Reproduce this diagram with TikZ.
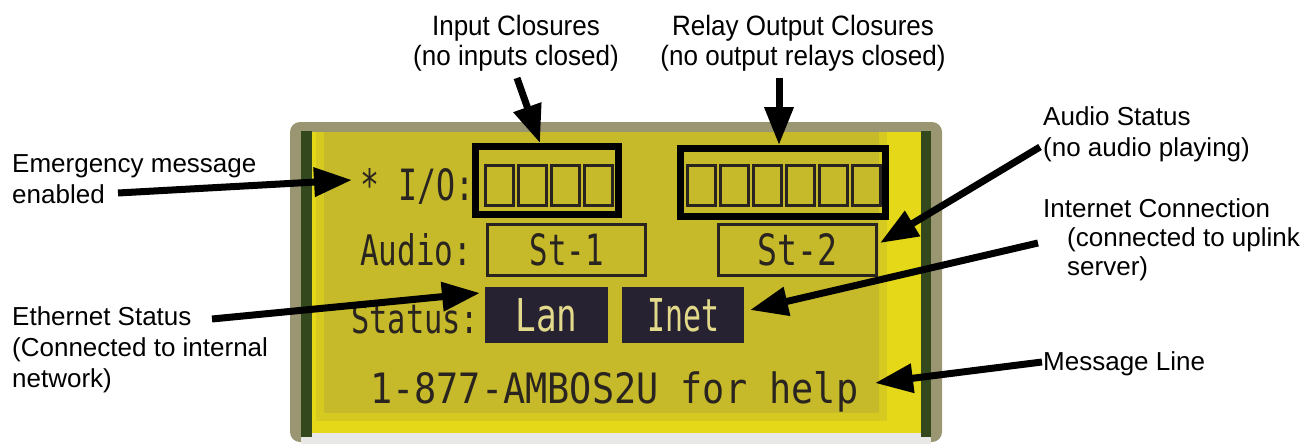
\documentclass[tikz,border=0pt]{standalone}
\usepackage{graphicx}
\usepackage{fontspec}
\setmainfont{Liberation Sans}
\newfontfamily\narrowfont[FakeStretch=0.93]{Liberation Sans}
\newfontfamily\lcdfont{DejaVu Sans Mono}
\usetikzlibrary{arrows.meta}
\definecolor{bezel}{HTML}{9A9672}
\definecolor{darkgreen}{HTML}{34481E}
\definecolor{lcdbright}{HTML}{E4D818}
\definecolor{lcdolive}{HTML}{C6BA2A}
\definecolor{lcdink}{HTML}{2A2420}
\definecolor{lcdblock}{HTML}{272232}
\definecolor{lcdpale}{HTML}{E2DA8A}
\definecolor{floor}{HTML}{E8E8E6}
\tikzset{
  lbl/.style={inner sep=0pt, align=left, font=\fontsize{26}{31}\selectfont},
  tlbl/.style={inner sep=0pt, align=center, font=\narrowfont\fontsize{28}{28}\selectfont},
  lcdtxt/.style={inner sep=0pt, text=lcdink},
  heavybox/.style={draw=black, line width=7pt, inner sep=0pt},
  stbox/.style={draw=lcdink, line width=3pt, inner sep=0pt, minimum width=158pt, minimum height=51pt},
  blockbox/.style={fill=lcdblock, inner sep=0pt, text=lcdpale},
  cell/.style={draw=lcdink, line width=3pt},
  arr/.style={line width=7pt, -{Triangle[length=38pt,width=28pt]}}
}
\begin{document}
\begin{tikzpicture}[x=1pt,y=-1pt]
\useasboundingbox (0,0) rectangle (1310,444);
\fill[white] (0,0) rectangle (1310,444);
% LCD module
\fill[bezel, rounded corners=10pt] (290,442) -- (290,122) -- (942,122) -- (942,442) -- cycle;
\fill[floor] (301,433) rectangle (931,444);
\fill[darkgreen] (301,131) rectangle (312,437);
\fill[darkgreen] (921,131) rectangle (931,437);
\fill[lcdbright] (312,132) rectangle (921,433);
\fill[lcdolive, opacity=0.45] (316,132) rectangle (887,421);
\fill[lcdolive] (324,132) rectangle (879,413);
% LCD text
\node[lcdtxt, anchor=base west] (io) at (360,200) {\resizebox{114pt}{32pt}{\lcdfont * I/O:}};
\node[lcdtxt, anchor=base west] (audio) at (360,265) {\resizebox{112pt}{32pt}{\lcdfont Audio:}};
\node[lcdtxt, anchor=base west] (status) at (351,333) {\resizebox{128pt}{30pt}{\lcdfont Status:}};
\node[lcdtxt, anchor=base west] (msg) at (370,403) {\resizebox{488pt}{32pt}{\lcdfont 1-877-AMBOS2U for help}};
% input cells
\foreach \x in {485,518,551,584} \draw[cell] (\x,165) rectangle ++(28,40);
\foreach \x in {687,720,753,786,819,852} \draw[cell] (\x,165) rectangle ++(28,40);
\node[heavybox, minimum width=143pt, minimum height=68pt] (inbox) at (547,180.5) {};
\node[heavybox, minimum width=205pt, minimum height=68pt] (outbox) at (783,182.5) {};
% audio boxes
\node[stbox] (st1) at (566.5,250) {\color{lcdink}\resizebox{74pt}{32pt}{\lcdfont St-1}};
\node[stbox] (st2) at (797.5,250) {\color{lcdink}\resizebox{80pt}{32pt}{\lcdfont St-2}};
% status blocks
\node[blockbox, minimum width=123pt, minimum height=56pt] (lan) at (546.5,315) {\resizebox{62pt}{33pt}{\lcdfont Lan}};
\node[blockbox, minimum width=122pt, minimum height=56pt] (inet) at (683,315) {\resizebox{72pt}{33pt}{\lcdfont Inet}};
% labels
\node[tlbl, anchor=north] (inlbl) at (516,15.4) {\strut Input Closures\\(no inputs closed)};
\node[tlbl, anchor=north] (outlbl) at (803,15.4) {\strut Relay Output Closures\\(no output relays closed)};
\node[lbl, anchor=north west] (emlbl) at (12,150.3) {\strut Emergency message\\enabled};
\node[lbl, anchor=north west] (ethlbl) at (12,303.3) {\strut Ethernet Status\\(Connected to internal\\network)};
\node[lbl, anchor=north west] (audlbl) at (1043,103.3) {\strut Audio Status\\(no audio playing)};
\node[lbl, anchor=base west] (netlbl) at (1043,217) {Internet Connection};
\node[lbl, anchor=north west, font=\fontsize{26}{29}\selectfont] (netlbl2) at (1067,225.7) {\strut(connected to uplink\\server)};
\node[lbl, anchor=base west] (msglbl) at (1043,370) {Message Line};
% arrow endpoints
\coordinate (inS) at (517,78);
\coordinate (outS) at (779,78);
\coordinate (emS) at (118,193);
\coordinate (emT) at (352,180);
\coordinate (ethS) at (212,319);
\coordinate (ethT) at (480,293);
\coordinate (audS) at (1040,147);
\coordinate (audT) at (880,243);
\coordinate (netS) at (1038,243);
\coordinate (netT) at (750,310);
\coordinate (msgS) at (1042,362);
\coordinate (msgT) at (875,383);
% arrows
\draw[arr] (inS) -- ([xshift=-7pt]inbox.north);
\draw[arr] (outS) -- ([xshift=-4pt]outbox.north);
\draw[arr] (emS) -- (emT);
\draw[arr] (ethS) -- (ethT);
\draw[arr] (audS) -- (audT);
\draw[arr] (netS) -- (netT);
\draw[arr] (msgS) -- (msgT);
\end{tikzpicture}
\end{document}
